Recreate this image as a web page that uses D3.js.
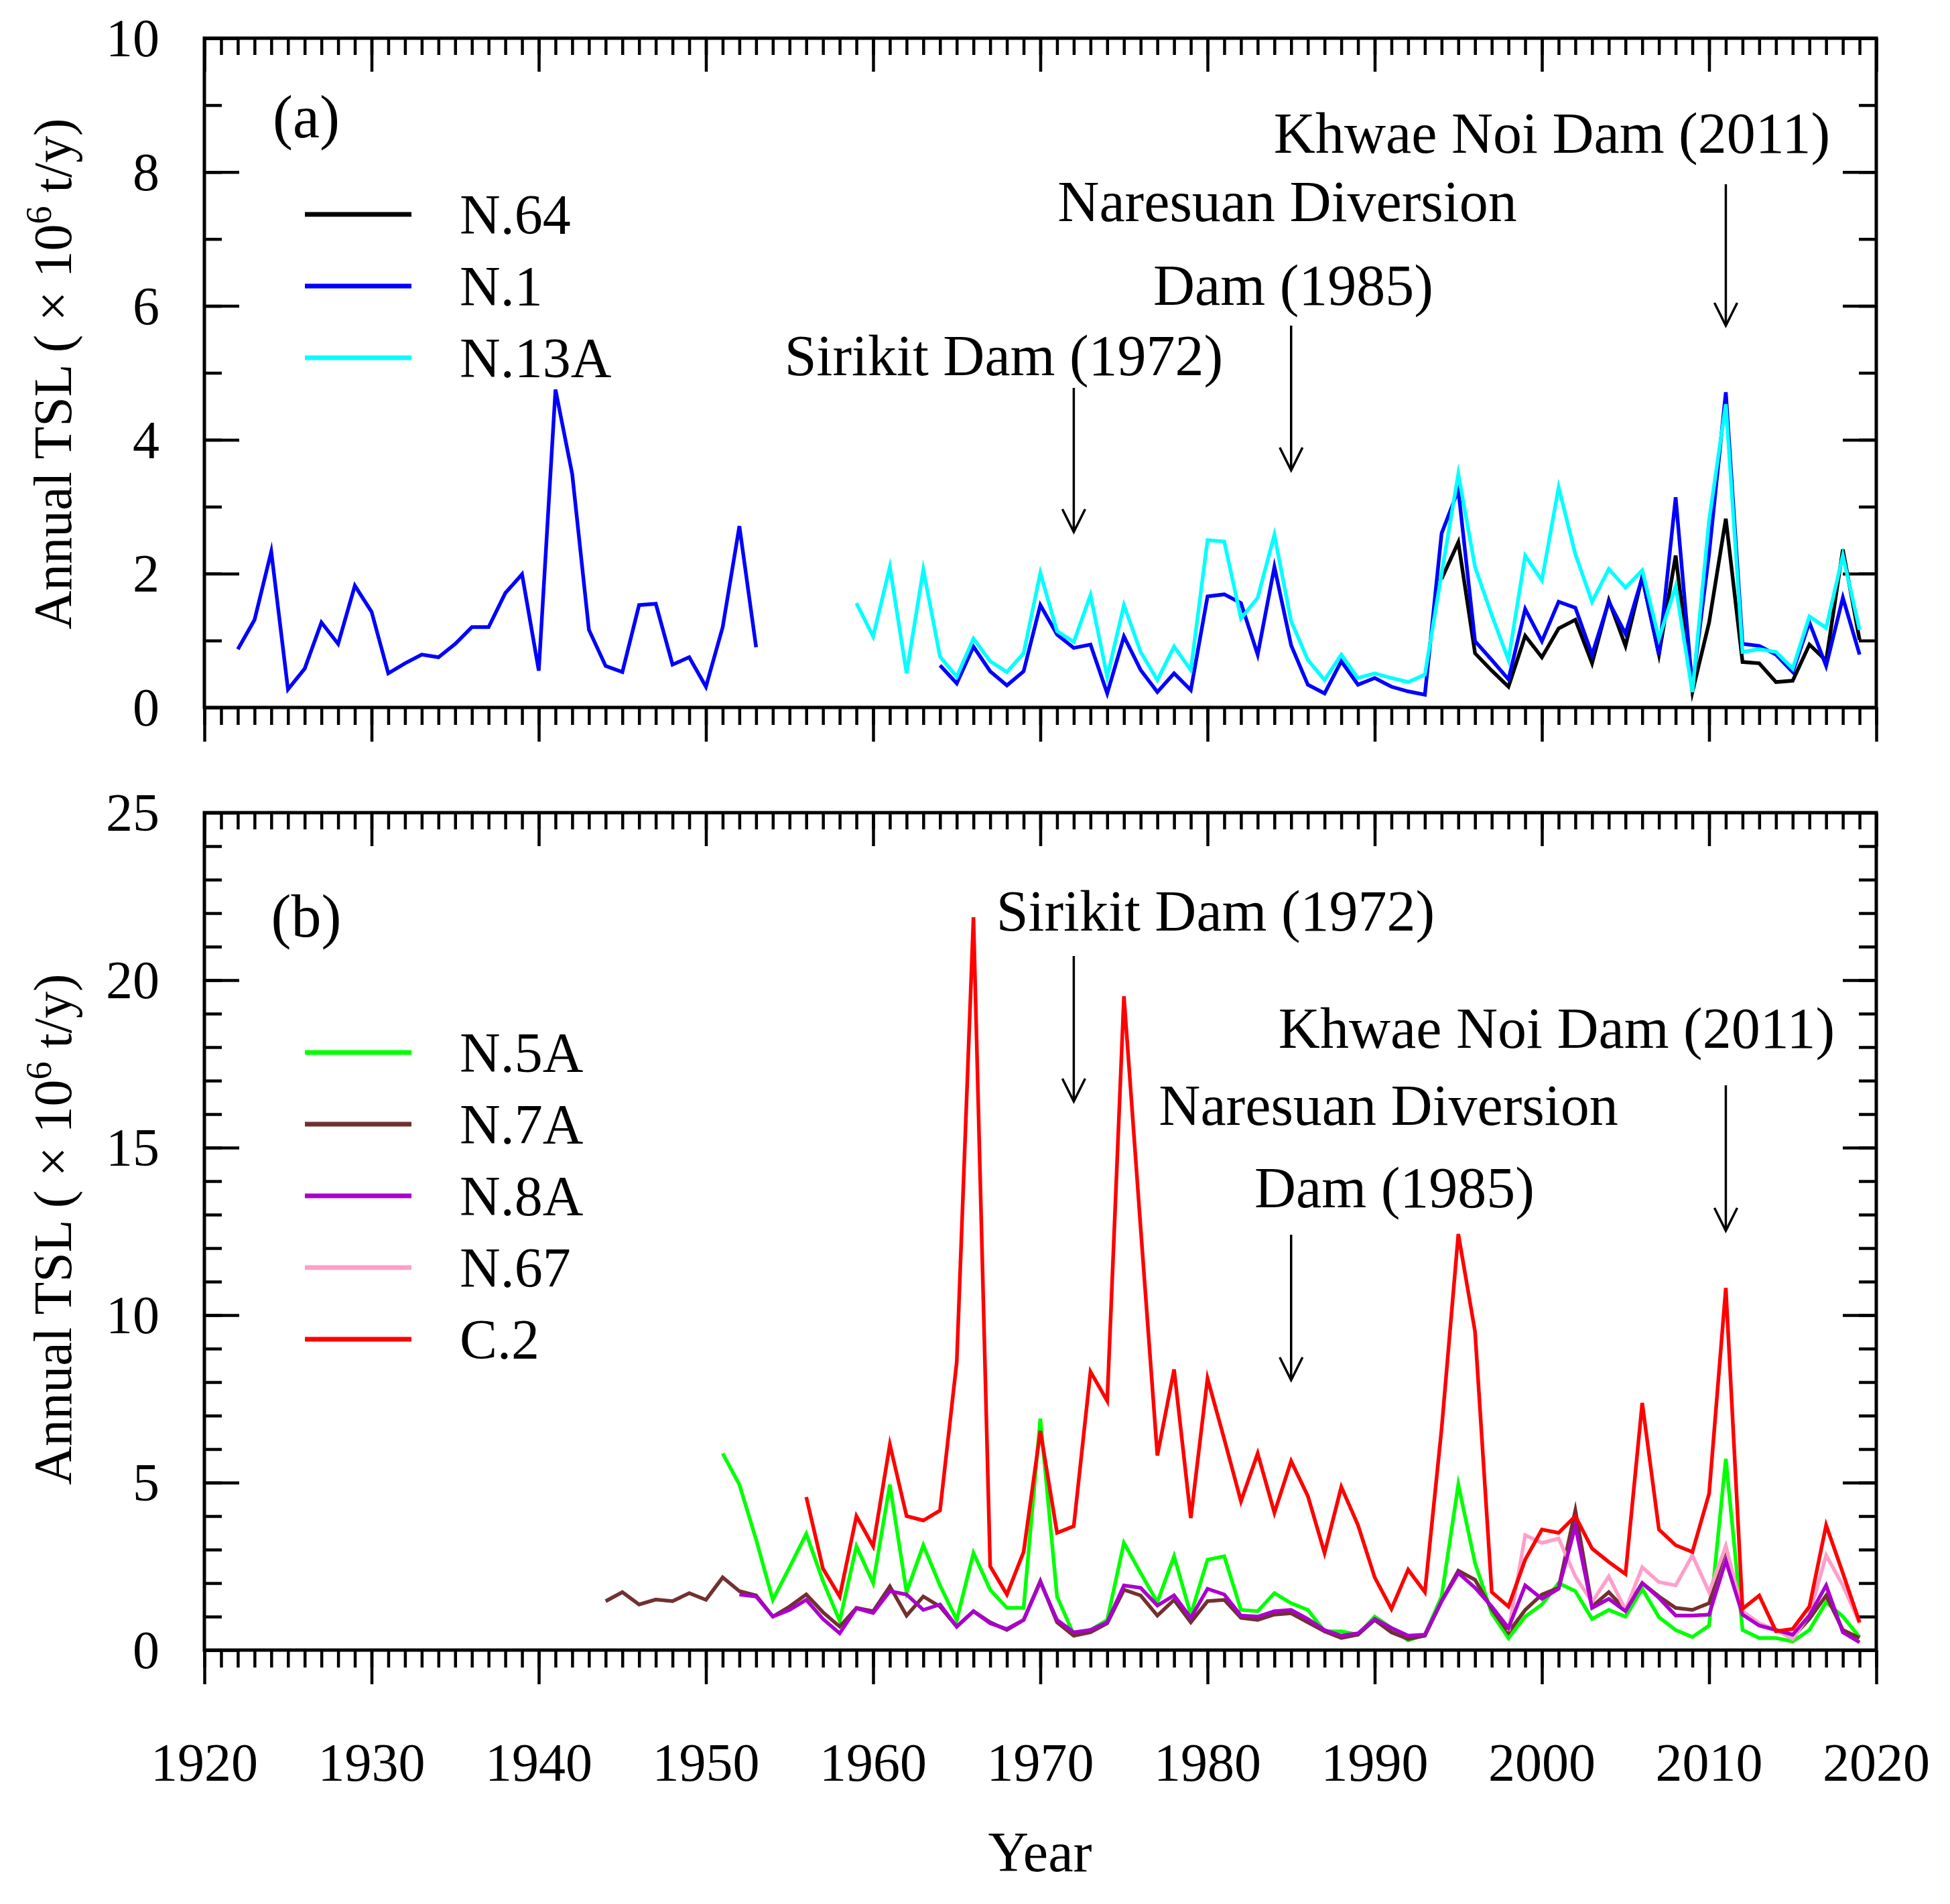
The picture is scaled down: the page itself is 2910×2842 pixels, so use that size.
<!DOCTYPE html>
<html>
<head>
<meta charset="utf-8">
<script src="https://cdn.jsdelivr.net/npm/d3@7"></script>
<style>
  html, body { margin: 0; padding: 0; background: #fff; }
  svg { display: block; }
  text { font-family: "Liberation Serif", "Times New Roman", serif; fill: #000; }
</style>
</head>
<body>
<svg id="chart" width="2910" height="2842"></svg>
<script>
// ---------------- DATA ----------------
const xTickYears = [1920, 1930, 1940, 1950, 1960, 1970, 1980, 1990, 2000, 2010, 2020];
const yTicksA = [0, 2, 4, 6, 8, 10];
const yTicksB = [0, 5, 10, 15, 20, 25];

// Panel (a)
const n64Start = 1994;
const n64 = [1.92, 2.47, 0.81, 0.55, 0.31, 1.07,
  0.75, 1.18, 1.31, 0.66, 1.60, 0.92, 1.95, 0.79, 2.27, 0.23,
  1.27, 2.82, 0.68, 0.66, 0.38, 0.40, 0.94, 0.70, 2.36, 1.01];

const n1Start = 1922;
const n1 = [0.87, 1.31, 2.33, 0.27, 0.58, 1.27, 0.95, 1.82,
  1.43, 0.51, 0.66, 0.79, 0.75, 0.95, 1.20, 1.20, 1.71, 1.99,
  0.55, 4.75, 3.49, 1.16, 0.62, 0.53, 1.53, 1.55, 0.64, 0.75,
  0.31, 1.20, 2.71, 0.90, null, null, null, null, null, null,
  null, null, null, null, 0.63, 0.36, 0.91, 0.54, 0.33, 0.54,
  1.53, 1.09, 0.89, 0.94, 0.21, 1.06, 0.56, 0.23, 0.51, 0.26,
  1.66, 1.69, 1.56, 0.79, 2.10, 0.93, 0.34, 0.21, 0.69, 0.34,
  0.44, 0.31, 0.24, 0.19, 2.60, 3.25, 0.99, 0.71, 0.42, 1.47,
  0.99, 1.58, 1.49, 0.79, 1.58, 1.10, 1.94, 0.79, 3.14, 0.30,
  2.30, 4.71, 0.95, 0.92, 0.79, 0.53, 1.27, 0.62, 1.64, 0.79];

const n13aStart = 1959;
const n13a = [1.56,
  1.06, 2.10, 0.51, 2.06, 0.76, 0.46, 1.03, 0.69, 0.53, 0.81,
  2.01, 1.14, 0.98, 1.68, 0.46, 1.53, 0.83, 0.41, 0.91, 0.56,
  2.50, 2.48, 1.33, 1.64, 2.58, 1.29, 0.71, 0.41, 0.79, 0.44,
  0.51, 0.44, 0.38, 0.49, 2.00, 3.49, 2.10, 1.38, 0.71, 2.27,
  1.90, 3.29, 2.29, 1.58, 2.07, 1.79, 2.05, 1.03, 1.81, 0.23,
  2.80, 4.53, 0.83, 0.87, 0.83, 0.58, 1.36, 1.19, 2.27, 1.16];

// Panel (b)
const n5aStart = 1951;
const n5a = [5.87, 4.94, 3.30, 1.50, 2.47, 3.47, 2.06, 0.87, 3.10,
  2.00, 4.94, 1.73, 3.13, 1.93, 0.90, 2.90, 1.80, 1.26, 1.26,
  6.91, 1.60, 0.46, 0.60, 0.90, 3.20, 2.30, 1.43, 2.80, 1.06,
  2.70, 2.80, 1.20, 1.16, 1.70, 1.40, 1.20, 0.56, 0.56, 0.46,
  1.00, 0.66, 0.29, 0.46, 1.60, 4.94, 2.60, 1.10, 0.36, 1.00,
  1.36, 2.00, 1.76, 0.93, 1.20, 1.00, 1.83, 0.98, 0.60, 0.39,
  0.73, 5.71, 0.60, 0.36, 0.36, 0.26, 0.60, 1.43, 1.00, 0.39];

const n7aStart = 1944;
const n7a = [1.46, 1.73, 1.36, 1.51, 1.46, 1.70,
  1.50, 2.17, 1.76, 1.63, 1.00, 1.30, 1.66, 1.13, 0.70, 1.26,
  1.16, 1.90, 1.03, 1.60, 1.30, 0.70, 1.16, 0.83, 0.60, 0.90,
  2.06, 0.83, 0.43, 0.53, 0.80, 1.80, 1.63, 1.03, 1.50, 0.83,
  1.46, 1.50, 0.96, 0.90, 1.06, 1.10, 0.83, 0.56, 0.36, 0.46,
  0.90, 0.53, 0.33, 0.43, 1.46, 2.37, 2.10, 1.23, 0.53, 1.20,
  1.66, 1.86, 4.17, 1.30, 1.73, 1.20, 2.00, 1.60, 1.26, 1.20,
  1.40, 3.07, 1.13, 0.77, 0.60, 0.39, 0.93, 1.63, 0.60, 0.36];

const n8aStart = 1952;
const n8a = [1.66, 1.60, 1.00, 1.20, 1.50, 0.93, 0.50, 1.25,
  1.11, 1.76, 1.66, 1.20, 1.36, 0.70, 1.16, 0.80, 0.63, 0.90,
  2.03, 0.90, 0.53, 0.60, 0.83, 1.93, 1.86, 1.33, 1.63, 0.96,
  1.83, 1.66, 1.03, 1.00, 1.16, 1.20, 0.93, 0.60, 0.43, 0.50,
  0.93, 0.66, 0.43, 0.46, 1.46, 2.30, 1.86, 1.30, 0.66, 1.93,
  1.53, 1.83, 3.70, 1.26, 1.53, 1.16, 2.00, 1.56, 1.03, 1.03,
  1.06, 2.67, 1.06, 0.73, 0.60, 0.46, 1.03, 1.93, 0.53, 0.23];

const n67Start = 1998;
const n67 = [0.56, 3.43,
  3.20, 3.33, 2.20, 1.43, 2.20, 1.20, 2.47, 2.03, 1.93, 2.83,
  1.73, 3.10, 1.16, 0.80, 0.60, 0.33, 1.06, 2.83, 1.93, 0.80];

const c2Start = 1956;
const c2 = [4.57, 2.43, 1.60, 4.00,
  3.10, 6.14, 4.00, 3.87, 4.17, 8.60, 21.88, 2.50, 1.66, 2.93,
  6.54, 3.50, 3.70, 8.31, 7.44, 19.52, 12.60, 5.81, 8.38, 3.94,
  8.11, 6.30, 4.44, 5.87, 4.10, 5.64, 4.60, 2.90, 4.87, 3.73,
  2.17, 1.23, 2.40, 1.73, 6.60, 12.42, 9.51, 1.73, 1.30, 2.70,
  3.60, 3.50, 4.00, 3.03, 2.63, 2.27, 7.38, 3.60, 3.13, 2.93,
  4.67, 10.81, 1.23, 1.63, 0.56, 0.63, 1.30, 3.73, 2.30, 0.83];

const seriesA = [
  {name: "N.64", start: n64Start, values: n64, color: "#000000"},
  {name: "N.1", start: n1Start, values: n1, color: "#0000ff"},
  {name: "N.13A", start: n13aStart, values: n13a, color: "#00ffff"}
];
const drawOrderA = ["N.64", "N.1", "N.13A"];

const seriesB = [
  {name: "N.5A", start: n5aStart, values: n5a, color: "#00ff00"},
  {name: "N.7A", start: n7aStart, values: n7a, color: "#733030"},
  {name: "N.8A", start: n8aStart, values: n8a, color: "#aa00cc"},
  {name: "N.67", start: n67Start, values: n67, color: "#ff9ecb"},
  {name: "C.2", start: c2Start, values: c2, color: "#ff0000"}
];
const drawOrderB = ["N.5A", "N.7A", "N.67", "N.8A", "C.2"];

const annotationsA = [
  {lines: ["Khwae Noi Dam (2011)"], cx: 2316, baselines: [228], year: 2011, y0: 275, y1: 486},
  {lines: ["Naresuan Diversion", "Dam (1985)"], cx: [1921, 1930], baselines: [330, 455], year: 1985, y0: 486, y1: 702},
  {lines: ["Sirikit Dam (1972)"], cx: 1498, baselines: [560], year: 1972, y0: 579, y1: 794}
];
const annotationsB = [
  {lines: ["Sirikit Dam (1972)"], cx: 1814, baselines: [1389], year: 1972, y0: 1427, y1: 1644},
  {lines: ["Khwae Noi Dam (2011)"], cx: 2323, baselines: [1564], year: 2011, y0: 1620, y1: 1837},
  {lines: ["Naresuan Diversion", "Dam (1985)"], cx: [2072, 2081], baselines: [1679, 1802], year: 1985, y0: 1843, y1: 2060}
];

// ---------------- LAYOUT ----------------
const svg = d3.select("#chart");
const X0 = 305, X1 = 2800;
const x = d3.scaleLinear().domain([1920, 2020]).range([X0, X1]);

const panels = [
  {label: "(a)", labelY: 205, top: 57, bottom: 1056, max: 10, major: 2, yTicks: yTicksA,
   series: seriesA, order: drawOrderA, legendY0: 320, ann: annotationsA, ylabelCY: 558},
  {label: "(b)", labelY: 1398, top: 1213, bottom: 2463, max: 25, major: 5, yTicks: yTicksB,
   series: seriesB, order: drawOrderB, legendY0: 1571, ann: annotationsB, ylabelCY: 1835}
];

const fontTick = 80, fontAnn = 86;
const allYears = d3.range(1920, 2021);
const decadeYears = xTickYears;

panels.forEach((p, pi) => {
  const y = d3.scaleLinear().domain([0, p.max]).range([p.bottom, p.top]);
  const g = svg.append("g");

  // ---- axes with ticks (inward on top/left/right, outward on bottom)
  function styleAxis(sel) {
    sel.select(".domain").remove();
    sel.selectAll(".tick line").attr("stroke", "#000").attr("stroke-width", 4.5);
    sel.selectAll(".tick text").remove();
  }
  // top
  g.append("g").attr("transform", `translate(0,${p.top})`)
    .call(d3.axisTop(x).tickValues(allYears).tickSize(-25).tickFormat("")).call(styleAxis);
  g.append("g").attr("transform", `translate(0,${p.top})`)
    .call(d3.axisTop(x).tickValues(decadeYears).tickSize(-50).tickFormat("")).call(styleAxis);
  // bottom (outward)
  g.append("g").attr("transform", `translate(0,${p.bottom})`)
    .call(d3.axisBottom(x).tickValues(allYears).tickSize(26).tickFormat("")).call(styleAxis);
  g.append("g").attr("transform", `translate(0,${p.bottom})`)
    .call(d3.axisBottom(x).tickValues(decadeYears).tickSize(51).tickFormat("")).call(styleAxis);
  // left / right
  const minorY = d3.range(0, p.max + 0.001, 1);
  const majorY = p.yTicks;
  g.append("g").attr("transform", `translate(${X0},0)`)
    .call(d3.axisLeft(y).tickValues(minorY).tickSize(-26).tickFormat("")).call(styleAxis);
  g.append("g").attr("transform", `translate(${X0},0)`)
    .call(d3.axisLeft(y).tickValues(majorY).tickSize(-52).tickFormat("")).call(styleAxis);
  g.append("g").attr("transform", `translate(${X1},0)`)
    .call(d3.axisRight(y).tickValues(minorY).tickSize(-26).tickFormat("")).call(styleAxis);
  g.append("g").attr("transform", `translate(${X1},0)`)
    .call(d3.axisRight(y).tickValues(majorY).tickSize(-50).tickFormat("")).call(styleAxis);

  // frame
  g.append("rect").attr("x", X0).attr("y", p.top).attr("width", X1 - X0).attr("height", p.bottom - p.top)
    .attr("fill", "none").attr("stroke", "#000").attr("stroke-width", 5);

  // y tick labels
  g.selectAll(".ylab").data(p.yTicks).enter().append("text")
    .attr("x", 238).attr("y", d => y(d)).attr("dy", "0.34em")
    .attr("text-anchor", "end").attr("font-size", fontTick).text(d => d);

  // y-axis title
  const yt = g.append("text")
    .attr("transform", `translate(106,${p.ylabelCY}) rotate(-90)`)
    .attr("text-anchor", "middle").attr("font-size", 80);
  yt.append("tspan").text("Annual TSL ( × 10");
  yt.append("tspan").attr("font-size", 54).attr("dy", -30).text("6");
  yt.append("tspan").attr("dy", 30).text(" t/y)");

  // data lines
  const line = d3.line().defined(d => d.v != null).x(d => x(d.year)).y(d => y(d.v));
  p.order.forEach(name => {
    const s = p.series.find(q => q.name === name);
    const pts = s.values.map((v, i) => ({year: s.start + i, v: v}));
    g.append("path").datum(pts).attr("d", line)
      .attr("fill", "none").attr("stroke", s.color).attr("stroke-width", 5.5)
      .attr("stroke-linejoin", "miter").attr("stroke-miterlimit", 6);
  });

  // legend
  p.series.forEach((s, i) => {
    const ly = p.legendY0 + i * 107;
    g.append("line").attr("x1", 455).attr("x2", 614).attr("y1", ly).attr("y2", ly)
      .attr("stroke", s.color).attr("stroke-width", 7);
    g.append("text").attr("x", 686).attr("y", ly + 29).attr("font-size", 84).text(s.name);
  });

  // panel label
  g.append("text").attr("x", 457).attr("y", p.labelY).attr("text-anchor", "middle")
    .attr("font-size", 90).text(p.label);

  // annotations
  p.ann.forEach(a => {
    a.lines.forEach((t, i) => {
      const cx = Array.isArray(a.cx) ? a.cx[i] : a.cx;
      g.append("text").attr("x", cx).attr("y", a.baselines[i]).attr("text-anchor", "middle")
        .attr("font-size", fontAnn).text(t);
    });
    const ax = x(a.year);
    g.append("line").attr("x1", ax).attr("x2", ax).attr("y1", a.y0).attr("y2", a.y1)
      .attr("stroke", "#000").attr("stroke-width", 3.5);
    g.append("path").attr("d", `M${ax - 17},${a.y1 - 34} L${ax},${a.y1} L${ax + 17},${a.y1 - 34}`)
      .attr("fill", "none").attr("stroke", "#000").attr("stroke-width", 3.5);
  });

  // x tick labels only under bottom panel
  if (pi === 1) {
    g.selectAll(".xlab").data(xTickYears).enter().append("text")
      .attr("x", d => x(d)).attr("y", 2658).attr("text-anchor", "middle")
      .attr("font-size", fontTick).text(d => d);
    g.append("text").attr("x", 1552).attr("y", 2793).attr("text-anchor", "middle")
      .attr("font-size", 84).text("Year");
  }
});
</script>
</body>
</html>
